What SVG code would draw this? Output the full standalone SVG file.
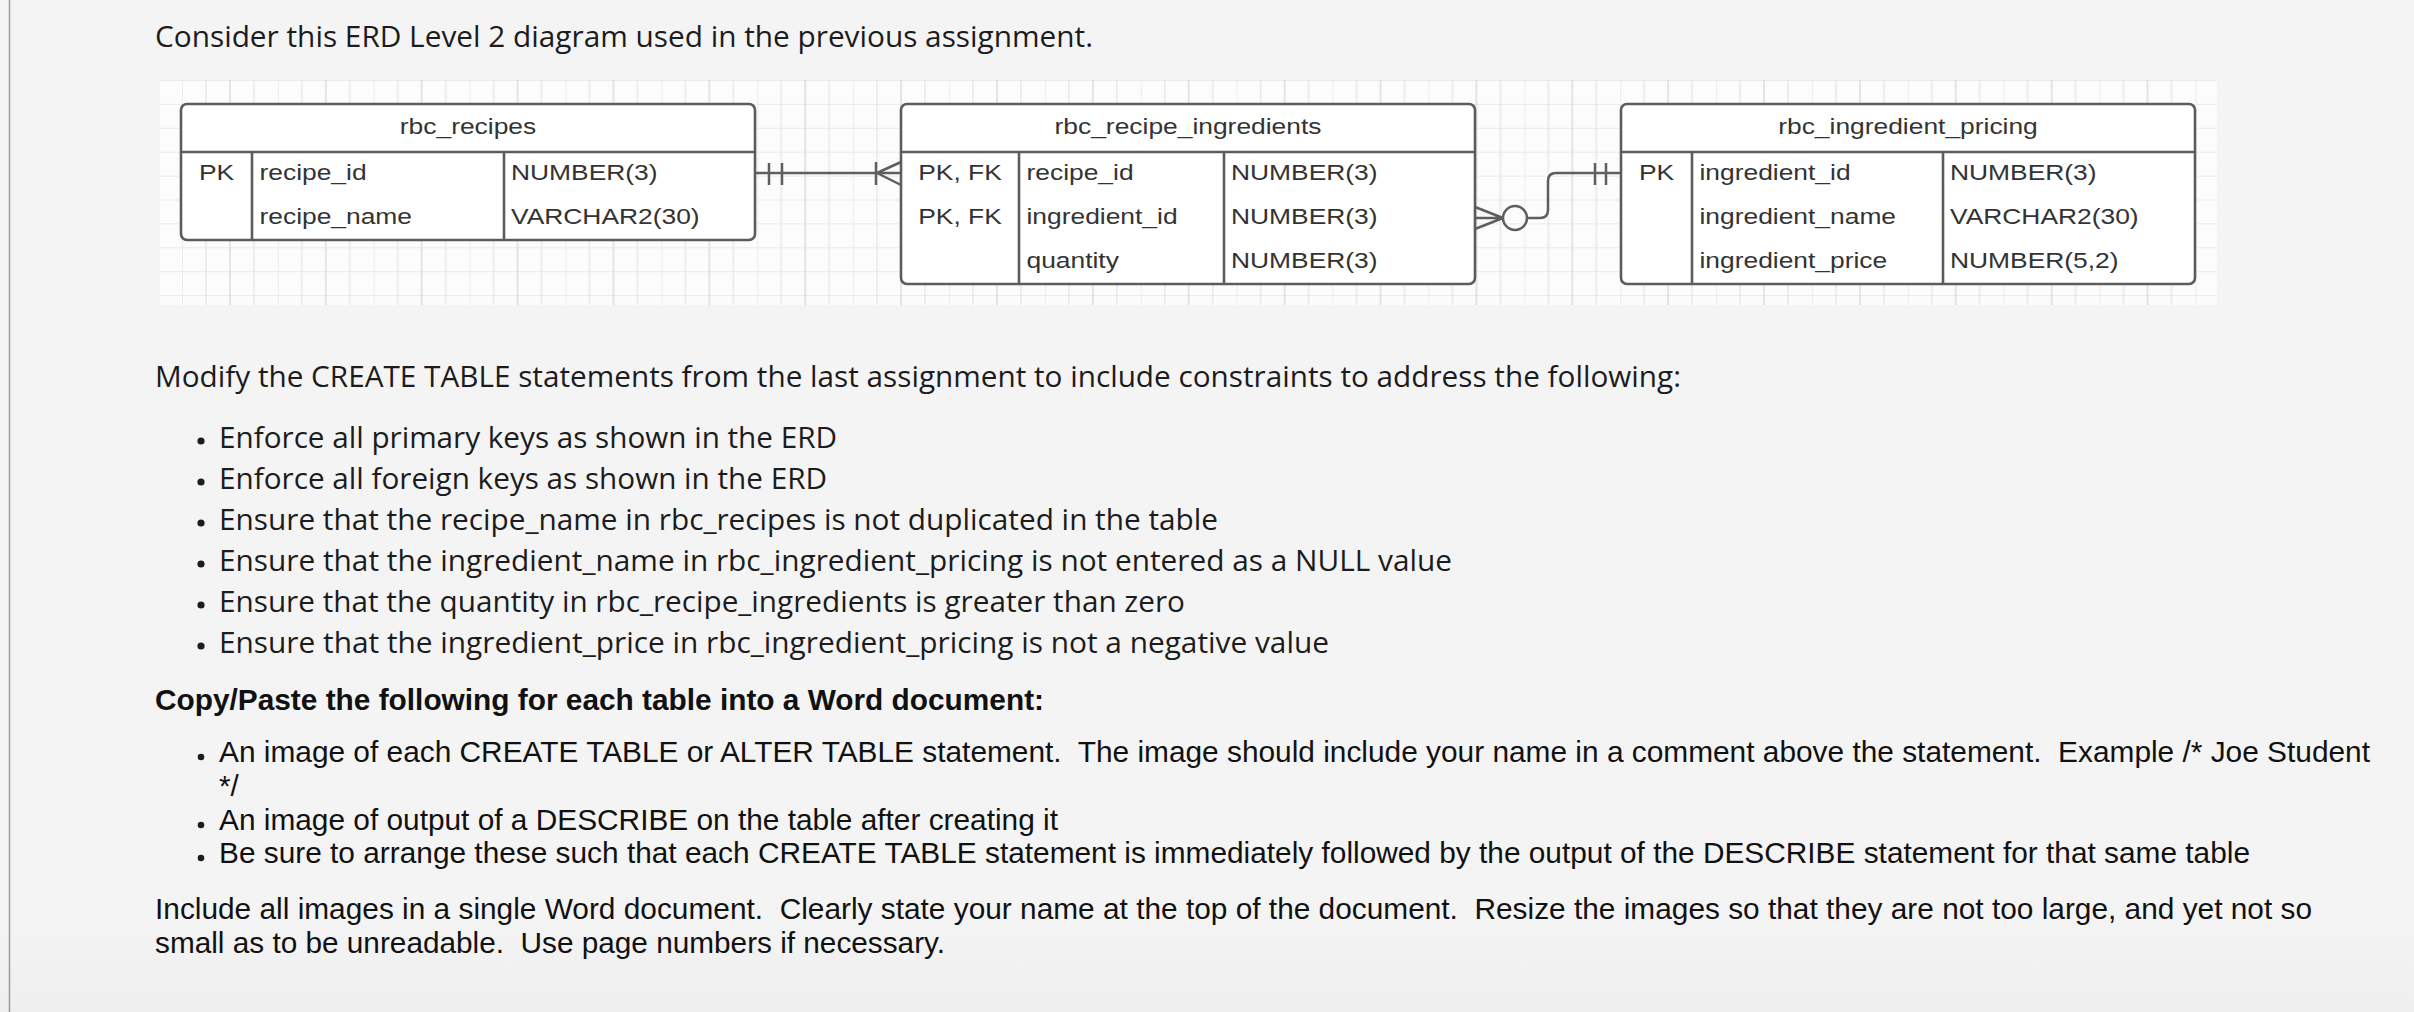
<svg xmlns="http://www.w3.org/2000/svg" width="2414" height="1012" viewBox="0 0 2414 1012">
<defs>
<pattern id="grid" patternUnits="userSpaceOnUse" x="182" y="103.9" width="95.88" height="23.9">
<rect x="0" y="0" width="95.88" height="23.9" fill="#fcfcfc"/>
<line x1="0" y1="0" x2="95.88" y2="0" stroke="#e4e4e4" stroke-width="1.3"/>
<line x1="0" y1="0" x2="0" y2="23.9" stroke="#e6e6e6" stroke-width="1.3"/>
<line x1="23.97" y1="0" x2="23.97" y2="23.9" stroke="#e6e6e6" stroke-width="1.3"/>
<line x1="47.94" y1="0" x2="47.94" y2="23.9" stroke="#dcdcdc" stroke-width="1.5"/>
<line x1="71.91" y1="0" x2="71.91" y2="23.9" stroke="#e6e6e6" stroke-width="1.3"/>
</pattern>
<linearGradient id="bg" x1="0" y1="0" x2="0" y2="1">
<stop offset="0" stop-color="#f4f4f4"/>
<stop offset="0.9" stop-color="#f4f4f4"/>
<stop offset="1" stop-color="#efefef"/>
</linearGradient>
</defs>
<style>
.os{font-family:"Open Sans","Noto Sans","Liberation Sans",sans-serif;font-size:29.6px;fill:#1c1c1c;white-space:pre}
.ar{font-family:"Liberation Sans",Arial,sans-serif;font-size:29.6px;fill:#111;white-space:pre}
.arb{font-family:"Liberation Sans",Arial,sans-serif;font-size:29.6px;font-weight:bold;fill:#111;white-space:pre}
.er{font-family:"Liberation Sans",Arial,sans-serif;font-size:22px;fill:#333}
.hd{text-anchor:middle}
.ctr{text-anchor:middle}
.box{fill:#ffffff;stroke:#5c5c5c;stroke-width:2.6}
.sep{stroke:#5c5c5c;stroke-width:2.6;fill:none}
.cn{stroke:#5e5e5e;stroke-width:2.5;fill:none}
.dot{fill:#1c1c1c}
</style>
<rect x="0" y="0" width="2414" height="1012" fill="url(#bg)"/>
<line x1="9.5" y1="0" x2="9.5" y2="1012" stroke="#9a9a9a" stroke-width="1.5"/>

<text class="os" x="155" y="47" textLength="938" lengthAdjust="spacingAndGlyphs">Consider this ERD Level 2 diagram used in the previous assignment.</text>

<rect x="160" y="80" width="2057" height="225" fill="url(#grid)"/>

<g id="connectors">
<path class="cn" d="M755,173 L901,173"/>
<path class="cn" d="M769,163 L769,185 M782,163 L782,185"/>
<path class="cn" d="M876,162 L876,185 M877,173 L901,162 M877,173 L901,185"/>
<path class="cn" d="M1475,218 L1503,218 M1475,207 L1503,218 M1475,229 L1503,218"/>
<circle class="cn" cx="1515" cy="218" r="12"/>
<path class="cn" d="M1527,218 L1540,218 Q1548,218 1548,210 L1548,181 Q1548,173 1556,173 L1621,173"/>
<path class="cn" d="M1595,163 L1595,185 M1606,163 L1606,185"/>
</g>

<g id="rbc_recipes">
<rect class="box" x="181" y="104" width="574" height="136" rx="6"/>
<path class="sep" d="M181,152 L755,152 M252,152 L252,240 M504,152 L504,240"/>
<text class="er hd" transform="translate(468,134) scale(1.2,1)">rbc_recipes</text>
<text class="er ctr" transform="translate(216.5,179.5) scale(1.2,1)">PK</text>
<text class="er" transform="translate(259.5,179.5) scale(1.2,1)">recipe_id</text>
<text class="er" transform="translate(259.5,223.5) scale(1.2,1)">recipe_name</text>
<text class="er" transform="translate(511,179.5) scale(1.2,1)">NUMBER(3)</text>
<text class="er" transform="translate(511,223.5) scale(1.2,1)">VARCHAR2(30)</text>
</g>

<g id="rbc_recipe_ingredients">
<rect class="box" x="901" y="104" width="574" height="180" rx="6"/>
<path class="sep" d="M901,152 L1475,152 M1019,152 L1019,284 M1224,152 L1224,284"/>
<text class="er hd" transform="translate(1188,133.5) scale(1.2,1)">rbc_recipe_ingredients</text>
<text class="er ctr" transform="translate(960,179.5) scale(1.2,1)">PK, FK</text>
<text class="er ctr" transform="translate(960,223.5) scale(1.2,1)">PK, FK</text>
<text class="er" transform="translate(1026.5,179.5) scale(1.2,1)">recipe_id</text>
<text class="er" transform="translate(1026.5,223.5) scale(1.2,1)">ingredient_id</text>
<text class="er" transform="translate(1026.5,267.5) scale(1.2,1)">quantity</text>
<text class="er" transform="translate(1231,179.5) scale(1.2,1)">NUMBER(3)</text>
<text class="er" transform="translate(1231,223.5) scale(1.2,1)">NUMBER(3)</text>
<text class="er" transform="translate(1231,267.5) scale(1.2,1)">NUMBER(3)</text>
</g>

<g id="rbc_ingredient_pricing">
<rect class="box" x="1621" y="104" width="574" height="180" rx="6"/>
<path class="sep" d="M1621,152 L2195,152 M1692,152 L1692,284 M1943,152 L1943,284"/>
<text class="er hd" transform="translate(1908,133.5) scale(1.2,1)">rbc_ingredient_pricing</text>
<text class="er ctr" transform="translate(1656.5,179.5) scale(1.2,1)">PK</text>
<text class="er" transform="translate(1699.5,179.5) scale(1.2,1)">ingredient_id</text>
<text class="er" transform="translate(1699.5,223.5) scale(1.2,1)">ingredient_name</text>
<text class="er" transform="translate(1699.5,267.5) scale(1.2,1)">ingredient_price</text>
<text class="er" transform="translate(1950,179.5) scale(1.2,1)">NUMBER(3)</text>
<text class="er" transform="translate(1950,223.5) scale(1.2,1)">VARCHAR2(30)</text>
<text class="er" transform="translate(1950,267.5) scale(1.2,1)">NUMBER(5,2)</text>
</g>

<text class="os" x="155" y="387" textLength="1526" lengthAdjust="spacingAndGlyphs">Modify the CREATE TABLE statements from the last assignment to include constraints to address the following:</text>

<circle class="dot" cx="201" cy="441" r="3.6"/>
<text class="os" x="219" y="448" textLength="618" lengthAdjust="spacingAndGlyphs">Enforce all primary keys as shown in the ERD</text>
<circle class="dot" cx="201" cy="482" r="3.6"/>
<text class="os" x="219" y="489" textLength="608" lengthAdjust="spacingAndGlyphs">Enforce all foreign keys as shown in the ERD</text>
<circle class="dot" cx="201" cy="523" r="3.6"/>
<text class="os" x="219" y="530" textLength="999" lengthAdjust="spacingAndGlyphs">Ensure that the recipe_name in rbc_recipes is not duplicated in the table</text>
<circle class="dot" cx="201" cy="564" r="3.6"/>
<text class="os" x="219" y="571" textLength="1233" lengthAdjust="spacingAndGlyphs">Ensure that the ingredient_name in rbc_ingredient_pricing is not entered as a NULL value</text>
<circle class="dot" cx="201" cy="605" r="3.6"/>
<text class="os" x="219" y="612" textLength="966" lengthAdjust="spacingAndGlyphs">Ensure that the quantity in rbc_recipe_ingredients is greater than zero</text>
<circle class="dot" cx="201" cy="646" r="3.6"/>
<text class="os" x="219" y="653" textLength="1110" lengthAdjust="spacingAndGlyphs">Ensure that the ingredient_price in rbc_ingredient_pricing is not a negative value</text>

<text class="arb" x="155" y="710" textLength="889" lengthAdjust="spacingAndGlyphs">Copy/Paste the following for each table into a Word document:</text>

<circle class="dot" cx="201" cy="757" r="3.3"/>
<text class="ar" x="219" y="762" textLength="2151" lengthAdjust="spacingAndGlyphs">An image of each CREATE TABLE or ALTER TABLE statement.  The image should include your name in a comment above the statement.  Example /* Joe Student</text>
<text class="ar" x="219" y="796">*/</text>
<circle class="dot" cx="201" cy="825" r="3.3"/>
<text class="ar" x="219" y="830" textLength="839" lengthAdjust="spacingAndGlyphs">An image of output of a DESCRIBE on the table after creating it</text>
<circle class="dot" cx="201" cy="858" r="3.3"/>
<text class="ar" x="219" y="863" textLength="2031" lengthAdjust="spacingAndGlyphs">Be sure to arrange these such that each CREATE TABLE statement is immediately followed by the output of the DESCRIBE statement for that same table</text>

<text class="ar" x="155" y="919" textLength="2157" lengthAdjust="spacingAndGlyphs">Include all images in a single Word document.  Clearly state your name at the top of the document.  Resize the images so that they are not too large, and yet not so</text>
<text class="ar" x="155" y="953" textLength="790" lengthAdjust="spacingAndGlyphs">small as to be unreadable.  Use page numbers if necessary.</text>
</svg>
